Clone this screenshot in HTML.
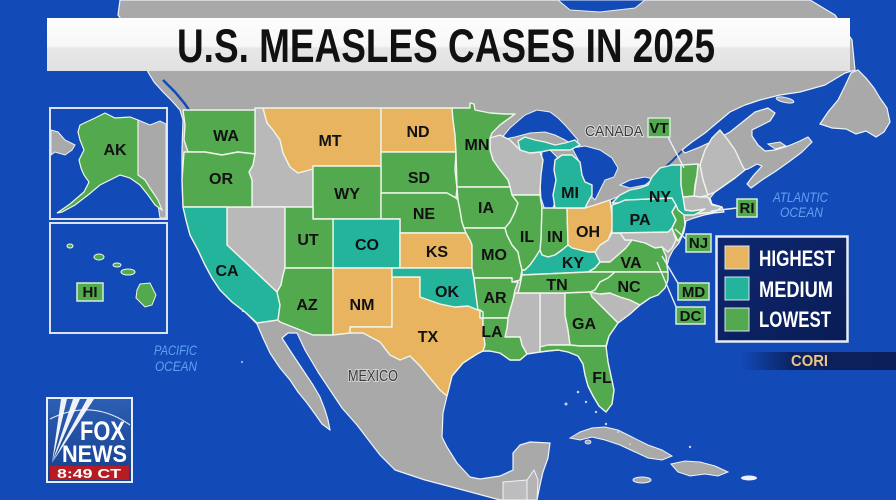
<!DOCTYPE html>
<html><head><meta charset="utf-8"><style>
html,body{margin:0;padding:0;background:#124ab8;}
svg{display:block;}
text{font-family:"Liberation Sans",Arial,sans-serif;}
.st{stroke:#eef4ea;stroke-width:1.4;stroke-linejoin:round;}
.or{fill:#e8b45f;}
.te{fill:#24b39b;}
.gr{fill:#53a94d;}
.gy{fill:#b9b9b9;}
.lb{font-weight:bold;font-size:16px;fill:#111;text-anchor:middle;}
.bl{font-weight:bold;font-size:15px;fill:#111;text-anchor:middle;}
.bx{fill:#53a94d;stroke:#d6ecd6;stroke-width:1.5;}
.ld{stroke:#e8eef8;stroke-width:1.4;fill:none;}
.lake{fill:#124ab8;stroke:#e8eef8;stroke-width:1;}
</style></head><body>
<svg width="896" height="500" viewBox="0 0 896 500" xmlns="http://www.w3.org/2000/svg">
<defs>
<linearGradient id="tb" x1="0" y1="0" x2="0" y2="1"><stop offset="0" stop-color="#fdfdfd"/><stop offset="0.53" stop-color="#f7f7f7"/><stop offset="0.57" stop-color="#e7e7e7"/><stop offset="1" stop-color="#e1e1e1"/></linearGradient>
<linearGradient id="cori" x1="0" y1="0" x2="1" y2="0"><stop offset="0" stop-color="#0b1f5a" stop-opacity="0"/><stop offset="0.35" stop-color="#0b1f5a" stop-opacity="0.95"/><stop offset="1" stop-color="#0c1f58"/></linearGradient>
<linearGradient id="foxg" x1="0" y1="0" x2="0" y2="1"><stop offset="0" stop-color="#2c5fb4"/><stop offset="1" stop-color="#163f8e"/></linearGradient>
<linearGradient id="leg" x1="0" y1="0" x2="1" y2="1"><stop offset="0" stop-color="#0d2770"/><stop offset="1" stop-color="#0a1c55"/></linearGradient>
</defs>
<rect width="896" height="500" fill="#124ab8"/>

<!-- mainland -->
<path fill="#a9a9a9" stroke="#eef2fa" stroke-width="1.2" stroke-linejoin="round" d="M120,0 L810,0 L835,15 L852,40 L855,70 L845,73 L825,85 L800,92 L780,95 L760,100 L745,105 L730,112 L718,122 L705,133 L692,142 L682,150 L685,153 L700,147 L715,140 L730,132 L745,120 L755,112 L768,108 L775,113 L770,121 L760,126 L752,130 L752,136 L758,145 L765,151 L775,150 L788,146 L800,141 L808,137 L812,142 L802,152 L790,161 L776,171 L762,180 L751,188 L747,184 L753,176 L762,166 L757,164 L748,169 L743,170 L735,178 L725,185 L715,192 L710,198 L712,204 L722,207 L724,212 L714,213 L704,215 L694,218 L686,221 L684,232 L679,243 L673,250 L669,258 L667,266 L668,275 L666,283 L660,291 L650,298 L640,305 L630,314 L618,323 L609,336 L606,348 L608,362 L611,376 L614,390 L612,404 L606,412 L599,406 L593,396 L588,386 L585,375 L583,364 L578,356 L568,352 L558,350 L548,351 L538,352 L527,354 L520,360 L510,360 L500,353 L490,351 L483,351 L477,354 L463,363 L452,376 L447,396 L443,413 L442,437 L447,447 L457,463 L470,477 L480,479 L500,476 L513,470 L513,453 L520,445 L530,442 L550,443 L548,458 L543,472 L540,485 L537,500 L500,500 L463,490 L425,480 L395,470 L380,455 L370,442 L357,425 L342,408 L330,390 L318,372 L305,350 L297,333 L288,333 L282,338 L293,355 L303,370 L313,385 L320,397 L325,410 L328,420 L330,430 L322,424 L315,414 L307,403 L298,392 L290,380 L280,368 L270,353 L263,338 L257,324 L245,312 L232,302 L220,290 L212,278 L205,265 L198,250 L190,235 L186,220 L183,205 L182,180 L182,150 L183,120 L180,110 L172,101 L163,92 L154,82 L148,72 L135,40 L118,15 Z"/>
<!-- Guatemala / Belize -->
<path fill="#bdbdbd" stroke="#eef2fa" stroke-width="1" d="M503,482 L527,480 L527,500 L503,500 Z"/>
<path fill="#b4b4b4" stroke="#eef2fa" stroke-width="1" d="M527,480 L534,470 L538,480 L537,500 L527,500 Z"/>
<!-- Newfoundland, islands -->
<path fill="#a9a9a9" stroke="#eef2fa" stroke-width="1.2" d="M820,124 L828,112 L838,100 L845,86 L851,73 L858,70 L866,78 L874,88 L880,98 L887,108 L890,122 L884,132 L876,137 L866,131 L856,134 L846,129 L832,128 Z"/>
<ellipse cx="785" cy="100" rx="9" ry="2.5" transform="rotate(12 785 100)" fill="#a9a9a9" stroke="#eef2fa" stroke-width="1"/>
<path fill="#a9a9a9" stroke="#eef2fa" stroke-width="1" d="M768,144 L780,142 L786,146 L775,149 Z"/>
<path fill="#a9a9a9" stroke="#eef2fa" stroke-width="1" d="M570,438 L580,432 L592,428 L605,427 L618,430 L632,437 L648,445 L662,450 L672,456 L662,460 L648,458 L635,452 L620,445 L605,440 L592,437 L580,440 Z"/>
<ellipse cx="588" cy="442" rx="3" ry="2" fill="#a9a9a9" stroke="#eef2fa" stroke-width="0.8"/>
<path fill="#a9a9a9" stroke="#eef2fa" stroke-width="1" d="M671,464 L685,461 L700,462 L715,466 L728,472 L718,476 L705,474 L690,476 L678,472 Z"/>
<ellipse cx="642" cy="480" rx="9" ry="3" fill="#a9a9a9" stroke="#eef2fa" stroke-width="1"/>
<ellipse cx="749" cy="478" rx="8" ry="2.5" fill="#eef2fa"/>
<g fill="#c8d2e6"><circle cx="578" cy="392" r="1.3"/><circle cx="586" cy="402" r="1.2"/><circle cx="566" cy="404" r="1.5"/><circle cx="596" cy="412" r="1.2"/><circle cx="606" cy="424" r="1.2"/><circle cx="618" cy="432" r="1.1"/><circle cx="630" cy="444" r="1"/><circle cx="243" cy="311" r="1.2"/><circle cx="242" cy="362" r="1"/><circle cx="690" cy="447" r="1.2"/></g>
<!-- water -->
<path class="lake" d="M558,0 L645,0 L635,8 L600,12 L570,10 Z"/>
<path class="lake" d="M500,140 L510,128 L525,115 L537,110 L550,112 L558,118 L565,125 L578,140 L575,146 L565,140 L555,135 L545,132 L530,133 L515,137 Z"/>
<path class="lake" d="M542,152 L550,150 L557,157 L559,170 L558,185 L556,200 L552,210 L545,210 L541,198 L540,180 L541,165 Z"/>
<path class="lake" d="M572,148 L585,146 L600,150 L612,158 L618,168 L614,177 L605,180 L600,190 L595,200 L592,197 L592,185 L585,182 L582,175 L580,163 Z"/>
<path class="lake" d="M585,210 L595,205 L610,200 L622,195 L629,193 L627,198 L615,205 L600,210 L590,212 Z"/>
<path class="lake" d="M620,185 L630,180 L645,177 L653,179 L645,185 L630,188 Z"/>
<polyline points="652,180 662,170 672,161 682,151" fill="none" stroke="#124ab8" stroke-width="2"/>
<polyline points="163,80 175,92 185,104 193,116" fill="none" stroke="#124ab8" stroke-width="2.5"/>

<!-- gray US states -->
<g class="st gy">
<path d="M255,108 L263,108 L267,123 L273,130 L280,140 L283,153 L290,167 L298,173 L313,169 L313,207 L285,207 L252,207 L252,180 L249,172 L253,165 L255,154 Z"/>
<path d="M227,207 L285,207 L285,268 L283,275 L281,285 L277,292 L227,245 Z"/>
<path d="M490,138 L500,135 L510,140 L520,150 L530,153 L540,152 L543,160 L541,175 L540,190 L540,195 L512,195 L510,187 L508,180 L500,170 L493,160 L490,150 Z"/>
<path d="M595,252 L600,245 L608,240 L612,233 L620,233 L625,240 L632,240 L626,248 L618,255 L610,262 L600,262 L598,258 Z"/>
<path d="M612,233 L668,232 L672,228 L676,240 L672,248 L668,252 L662,247 L655,248 L645,243 L632,240 L625,240 L620,233 Z"/>
<path d="M590,292 L600,294 L610,293 L620,297 L630,300 L640,305 L630,314 L618,323 L610,315 L600,305 L592,297 Z"/>
<path d="M540,293 L565,293 L565,315 L568,330 L570,345 L548,345 L545,351 L540,352 Z"/>
<path d="M515,293 L540,293 L540,352 L527,354 L522,345 L520,337 L505,337 L507,328 L508,318 L510,310 L513,300 Z"/>
<path d="M700,165 L705,150 L712,138 L720,130 L728,140 L735,150 L743,167 L745,170 L735,178 L725,185 L715,192 L708,195 L703,180 Z"/>
<path d="M698,165 L700,165 L703,180 L708,195 L700,197 L694,196 L697,175 Z"/>
<path d="M683,197 L694,196 L700,197 L708,197 L712,205 L722,207 L715,212 L705,213 L695,214 L690,212 L685,210 Z"/>
</g>

<!-- colored states -->
<g class="st">
<path class="gr" d="M183,110 L255,110 L255,154 L238,152 L222,155 L205,152 L188,152 L184,140 L185,125 Z"/>
<path class="gr" d="M184,152 L188,152 L205,152 L222,155 L238,152 L255,154 L253,165 L249,172 L252,180 L252,207 L183,207 L182,180 Z"/>
<path class="or" d="M263,108 L381,108 L381,166 L313,166 L313,169 L298,173 L290,167 L283,153 L280,140 L273,130 L267,123 Z"/>
<path class="or" d="M381,108 L452,108 L453,120 L455,135 L456,152 L381,152 Z"/>
<path class="gr" d="M381,152 L456,152 L455,170 L457,188 L456,198 L447,193 L430,193 L381,193 Z"/>
<path class="gr" d="M313,166 L381,166 L381,219 L313,219 Z"/>
<path class="gr" d="M381,193 L430,193 L447,193 L456,198 L458,200 L460,210 L462,222 L466,233 L400,233 L400,219 L381,219 Z"/>
<path class="te" d="M333,219 L400,219 L400,268 L333,268 Z"/>
<path class="or" d="M400,233 L466,233 L470,240 L472,245 L472,268 L400,268 Z"/>
<path class="gr" d="M285,207 L313,207 L313,219 L333,219 L333,268 L285,268 Z"/>
<path class="te" d="M183,207 L227,207 L227,245 L277,292 L280,305 L278,320 L257,323 L245,312 L232,302 L220,290 L212,278 L205,265 L198,250 L190,235 L186,220 Z"/>
<path class="gr" d="M285,268 L333,268 L333,335 L313,335 L280,322 L278,320 L280,305 L277,292 L281,285 L283,275 Z"/>
<path class="or" d="M333,268 L392,268 L392,327 L350,327 L350,333 L333,335 Z"/>
<path class="or" d="M392,277 L420,277 L420,297 L440,304 L455,307 L468,306 L478,310 L483,312 L483,330 L485,345 L483,351 L477,354 L463,363 L452,376 L447,396 L440,390 L430,378 L420,366 L410,356 L400,360 L390,355 L380,342 L363,333 L350,333 L350,327 L392,327 Z"/>
<path class="te" d="M392,268 L472,268 L474,280 L476,295 L478,310 L468,306 L455,307 L440,304 L420,297 L420,277 L392,277 Z"/>
<path class="gr" d="M452,108 L470,108 L470,103 L474,104 L475,110 L490,113 L505,114 L515,114 L500,125 L492,133 L490,138 L490,150 L493,160 L500,170 L508,180 L510,187 L457,187 L456,152 L455,135 L453,120 Z"/>
<path class="gr" d="M457,187 L510,187 L512,195 L518,203 L515,212 L510,222 L505,228 L464,228 L462,222 L460,210 L458,200 Z"/>
<path class="gr" d="M464,228 L505,228 L507,235 L512,245 L518,252 L520,262 L522,270 L520,280 L512,282 L512,278 L474,278 L472,268 L472,245 L470,240 L466,233 Z"/>
<path class="gr" d="M474,278 L512,278 L512,282 L518,282 L515,290 L513,300 L510,310 L508,318 L480,318 L480,310 L478,310 L476,295 Z"/>
<path class="gr" d="M480,318 L508,318 L507,328 L505,337 L520,337 L522,345 L527,354 L520,360 L510,360 L500,353 L490,351 L483,351 L485,345 L483,330 L483,312 L480,310 Z"/>
<path class="gr" d="M512,195 L540,195 L542,208 L541,240 L540,250 L535,258 L530,265 L525,270 L522,270 L520,262 L518,252 L512,245 L507,235 L505,228 L510,222 L515,212 L518,203 Z"/>
<path class="gr" d="M542,208 L567,208 L568,245 L562,250 L555,255 L548,257 L542,255 L540,250 L541,240 Z"/>
<path class="or" d="M567,208 L585,208 L595,205 L610,200 L612,215 L612,230 L608,240 L600,245 L595,252 L588,252 L580,250 L572,248 L568,245 Z"/>
<path class="te" d="M518,141 L525,137 L535,140 L545,142 L555,145 L565,143 L575,140 L580,145 L570,150 L560,150 L550,150 L540,152 L530,153 L520,150 Z"/>
<path class="te" d="M555,160 L562,155 L572,155 L580,162 L582,175 L585,182 L592,185 L592,195 L588,202 L585,208 L567,208 L555,208 L553,195 L556,180 L554,170 Z"/>
<path class="te" d="M522,270 L525,270 L530,265 L535,258 L540,250 L542,255 L548,257 L555,255 L562,250 L568,245 L572,248 L580,250 L588,252 L595,252 L598,258 L600,262 L595,268 L588,272 L522,275 Z"/>
<path class="gr" d="M588,272 L595,268 L600,262 L610,262 L618,255 L626,248 L632,240 L645,243 L655,248 L662,247 L666,256 L667,266 L668,272 Z"/>
<path class="gr" d="M522,275 L588,272 L615,272 L608,278 L600,282 L595,290 L590,292 L565,293 L518,293 L520,285 Z"/>
<path class="gr" d="M615,272 L668,272 L668,280 L665,288 L658,295 L650,298 L640,305 L630,300 L620,297 L610,293 L600,294 L590,292 L595,290 L600,282 L608,278 Z"/>
<path class="gr" d="M565,293 L590,292 L592,297 L600,305 L610,315 L618,323 L609,336 L606,346 L580,346 L570,345 L568,330 L565,315 Z"/>
<path class="gr" d="M540,347 L548,345 L570,345 L580,346 L606,346 L608,362 L611,376 L614,390 L612,404 L606,412 L599,406 L593,396 L588,386 L585,375 L583,364 L578,356 L568,352 L558,350 L548,351 L540,352 Z"/>
<path class="te" d="M612,205 L618,203 L625,200 L672,198 L676,205 L672,212 L676,220 L672,228 L668,232 L612,233 L612,215 Z"/>
<path class="te" d="M612,203 L620,195 L630,190 L640,188 L648,185 L652,177 L660,168 L672,165 L681,165 L681,185 L683,197 L685,210 L692,211 L705,209 L694,215 L684,215 L678,210 L676,205 L672,198 L625,200 L618,203 Z"/>
<path class="gr" d="M681,165 L698,164 L697,175 L695,185 L694,196 L683,197 L681,185 Z"/>
<path class="gr" d="M676,205 L678,210 L684,215 L685,225 L682,235 L678,241 L674,233 L672,228 L676,220 L672,212 Z"/>
</g>

<!-- leader lines -->
<g class="ld">
<line x1="668" y1="137" x2="684" y2="168"/>
<line x1="737" y1="208" x2="711" y2="211"/>
<line x1="687" y1="240" x2="675" y2="229"/>
<line x1="679" y1="285" x2="662" y2="256"/>
<line x1="677" y1="309" x2="657" y2="262"/>
</g>

<!-- state labels -->
<g class="lb">
<text x="226" y="141">WA</text><text x="221" y="184">OR</text><text x="330" y="146">MT</text>
<text x="418" y="137">ND</text><text x="419" y="183">SD</text><text x="347" y="199">WY</text>
<text x="424" y="219">NE</text><text x="308" y="245">UT</text><text x="367" y="250">CO</text>
<text x="437" y="257">KS</text><text x="227" y="276">CA</text><text x="307" y="310">AZ</text>
<text x="362" y="310">NM</text><text x="447" y="297">OK</text><text x="428" y="342">TX</text>
<text x="477" y="150">MN</text><text x="486" y="213">IA</text><text x="494" y="260">MO</text>
<text x="495" y="303">AR</text><text x="492" y="337">LA</text><text x="527" y="242">IL</text>
<text x="555" y="242">IN</text><text x="588" y="237">OH</text><text x="570" y="198">MI</text>
<text x="573" y="268">KY</text><text x="557" y="290">TN</text><text x="631" y="268">VA</text>
<text x="629" y="292">NC</text><text x="584" y="329">GA</text><text x="602" y="383">FL</text>
<text x="640" y="225">PA</text><text x="660" y="202">NY</text>
</g>

<!-- boxed labels -->
<rect class="bx" x="648" y="118" width="22" height="19"/><text class="bl" x="659" y="133">VT</text>
<rect class="bx" x="737" y="199" width="20" height="18"/><text class="bl" x="747" y="213">RI</text>
<rect class="bx" x="686" y="234" width="25" height="18"/><text class="bl" x="698.5" y="248">NJ</text>
<rect class="bx" x="678" y="283" width="31" height="17"/><text class="bl" x="693.5" y="297">MD</text>
<rect class="bx" x="676" y="307" width="29" height="17"/><text class="bl" x="690.5" y="321">DC</text>

<!-- place labels -->
<text x="585" y="136" font-size="15" textLength="58" lengthAdjust="spacingAndGlyphs" fill="#3a3a3a" stroke="#dcdcdc" stroke-width="2" paint-order="stroke">CANADA</text>
<text x="348" y="381" font-size="16" textLength="50" lengthAdjust="spacingAndGlyphs" fill="#3a3a3a" stroke="#d4d4d4" stroke-width="2" paint-order="stroke">MEXICO</text>
<g fill="#5da3f2" font-style="italic" font-size="14">
<text x="154" y="355" textLength="43" lengthAdjust="spacingAndGlyphs">PACIFIC</text>
<text x="155" y="371" textLength="42" lengthAdjust="spacingAndGlyphs">OCEAN</text>
<text x="773" y="202" textLength="55" lengthAdjust="spacingAndGlyphs">ATLANTIC</text>
<text x="780" y="217" textLength="43" lengthAdjust="spacingAndGlyphs">OCEAN</text>
</g>

<!-- Alaska inset -->
<rect x="50" y="108" width="117" height="111" fill="#124ab8" stroke="#dbe3f0" stroke-width="2"/>
<path fill="#a9a9a9" stroke="#eef2fa" stroke-width="1" d="M138,120 L150,125 L160,121 L166,124 L166,218 L160,218 L158,205 L150,190 L145,180 L138,175 Z"/>
<path fill="#a9a9a9" stroke="#eef2fa" stroke-width="1" d="M51,130 L58,132 L65,140 L75,145 L72,150 L65,155 L55,152 L51,155 Z"/>
<path class="gr" stroke="#eef4ea" stroke-width="1.2" d="M80,125 L95,118 L105,113 L115,118 L130,117 L138,120 L138,175 L145,180 L150,188 L158,200 L162,210 L155,205 L148,195 L140,185 L130,178 L120,175 L110,180 L100,185 L88,195 L75,205 L62,212 L57,213 L70,204 L84,192 L89,182 L84,175 L81,168 L79,160 L84,150 L80,140 L78,132 Z"/>
<text class="lb" x="115" y="155" font-size="17">AK</text>
<!-- Hawaii inset -->
<rect x="50" y="223" width="117" height="110" fill="#124ab8" stroke="#dbe3f0" stroke-width="2"/>
<g class="gr" stroke="#eef4ea" stroke-width="1">
<ellipse cx="70" cy="246" rx="3" ry="2"/>
<ellipse cx="99" cy="257" rx="5" ry="3"/>
<ellipse cx="117" cy="265" rx="4" ry="2"/>
<ellipse cx="128" cy="272" rx="7" ry="3"/>
<path d="M140,284 L150,283 L156,295 L152,305 L145,307 L136,298 L137,290 Z"/>
</g>
<rect class="bx" x="77" y="283" width="26" height="18"/><text class="bl" x="90" y="297">HI</text>

<!-- title -->
<rect x="47" y="18" width="803" height="53" fill="url(#tb)"/>
<text x="177" y="62" font-size="47" font-weight="bold" fill="#111" textLength="538" lengthAdjust="spacingAndGlyphs">U.S. MEASLES CASES IN 2025</text>

<!-- legend -->
<rect x="716.5" y="236.5" width="131" height="105" fill="url(#leg)" stroke="#e6ecf5" stroke-width="2.5"/>
<rect x="725" y="246" width="24" height="23" fill="#e8b45f" stroke="#d9e3ee" stroke-width="1"/>
<rect x="725" y="277" width="24" height="23" fill="#24b39b" stroke="#d9e3ee" stroke-width="1"/>
<rect x="725" y="308" width="24" height="23" fill="#53a94d" stroke="#d9e3ee" stroke-width="1"/>
<g fill="#fff" font-size="22" font-weight="bold">
<text x="759" y="266" textLength="76" lengthAdjust="spacingAndGlyphs">HIGHEST</text>
<text x="759" y="297" textLength="74" lengthAdjust="spacingAndGlyphs">MEDIUM</text>
<text x="759" y="327" textLength="72" lengthAdjust="spacingAndGlyphs">LOWEST</text>
</g>

<!-- CORI bar -->
<rect x="740" y="352" width="156" height="18" fill="url(#cori)"/>
<text x="791" y="366" font-size="16" font-weight="bold" fill="#e8c485" textLength="37" lengthAdjust="spacingAndGlyphs">CORI</text>

<!-- Fox logo -->
<rect x="47" y="398" width="85" height="84" fill="url(#foxg)" stroke="#e8eef8" stroke-width="2"/>
<g fill="#ffffff" opacity="0.92">
<polygon points="52,463 61,399 67,399"/>
<polygon points="52,463 73,399 80,399"/>
<polygon points="52,463 87,399 94,399"/>
</g>
<path d="M50,419 Q92,398 130,425" fill="none" stroke="#ffffff" stroke-width="1.1" opacity="0.85"/>
<text x="80" y="440" font-size="27" font-weight="bold" fill="#fff" textLength="45" lengthAdjust="spacingAndGlyphs">FOX</text>
<text x="62" y="462" font-size="24" font-weight="bold" fill="#fff" textLength="65" lengthAdjust="spacingAndGlyphs">NEWS</text>
<rect x="50" y="466" width="79" height="14" fill="#b71c22"/>
<text x="57" y="478" font-size="13" font-weight="bold" fill="#fff" textLength="64" lengthAdjust="spacingAndGlyphs">8:49 CT</text>
</svg>
</body></html>
